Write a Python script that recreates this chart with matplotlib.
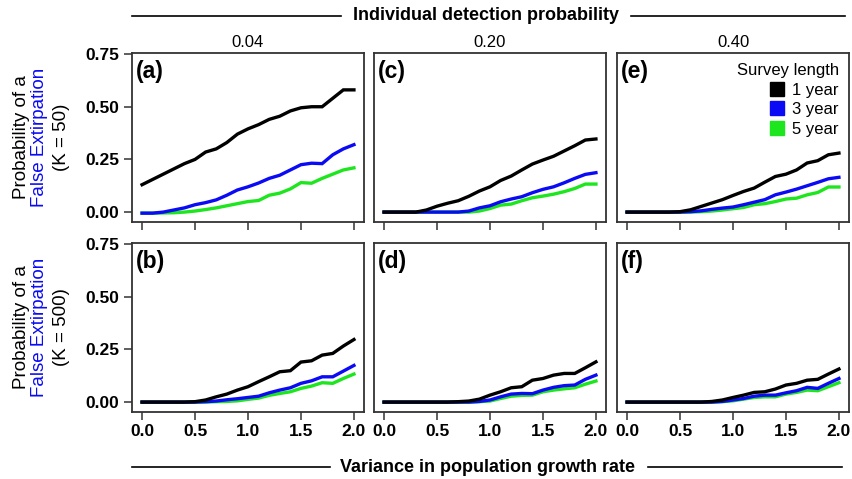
import matplotlib
matplotlib.use("Agg")
import matplotlib.pyplot as plt
from matplotlib.lines import Line2D

plt.rcParams['font.family'] = ['Liberation Sans', 'DejaVu Sans']

# variance in population growth rate
x = [0.0, 0.1, 0.2, 0.3, 0.4, 0.5, 0.6, 0.7, 0.8, 0.9, 1.0,
     1.1, 1.2, 1.3, 1.4, 1.5, 1.6, 1.7, 1.8, 1.9, 2.0]

# (a) p = 0.04, K = 50
a_1yr = [0.13, 0.155, 0.18, 0.205, 0.23, 0.25, 0.285, 0.30, 0.33, 0.37, 0.395,
         0.415, 0.44, 0.455, 0.48, 0.495, 0.50, 0.50, 0.54, 0.58, 0.58]
a_3yr = [-0.005, -0.005, 0.0, 0.01, 0.02, 0.035, 0.045, 0.058, 0.08, 0.105, 0.12,
         0.138, 0.16, 0.175, 0.20, 0.225, 0.232, 0.23, 0.272, 0.30, 0.32]
a_5yr = [-0.005, -0.005, -0.004, -0.003, 0.0, 0.005, 0.012, 0.02, 0.03, 0.04, 0.05,
         0.055, 0.08, 0.09, 0.11, 0.14, 0.137, 0.16, 0.18, 0.20, 0.21]
# (c) p = 0.20, K = 50
c_1yr = [0.0, 0.0, 0.0, 0.0, 0.01, 0.028, 0.042, 0.054, 0.075, 0.10, 0.12,
         0.15, 0.171, 0.20, 0.228, 0.247, 0.265, 0.29, 0.315, 0.342, 0.347]
c_3yr = [0.0, 0.0, 0.0, 0.0, 0.0, 0.0, 0.0, 0.0, 0.005, 0.02, 0.03,
         0.049, 0.062, 0.073, 0.092, 0.108, 0.12, 0.139, 0.16, 0.179, 0.187]
c_5yr = [0.0, 0.0, 0.0, 0.0, 0.0, 0.0, 0.0, 0.0, 0.0, 0.005, 0.017,
         0.033, 0.038, 0.054, 0.068, 0.076, 0.085, 0.097, 0.112, 0.133, 0.133]
# (e) p = 0.40, K = 50
e_1yr = [0.0, 0.0, 0.0, 0.0, 0.0, 0.002, 0.011, 0.027, 0.043, 0.059, 0.079,
         0.098, 0.114, 0.142, 0.169, 0.18, 0.20, 0.233, 0.244, 0.272, 0.28]
e_3yr = [0.0, 0.0, 0.0, 0.0, 0.0, 0.0, 0.002, 0.006, 0.013, 0.019, 0.024,
         0.035, 0.047, 0.059, 0.082, 0.095, 0.109, 0.125, 0.141, 0.158, 0.165]
e_5yr = [0.0, 0.0, 0.0, 0.0, 0.0, 0.0, 0.0, 0.002, 0.005, 0.01, 0.016,
         0.022, 0.035, 0.04, 0.05, 0.062, 0.066, 0.082, 0.093, 0.119, 0.119]
# (b) p = 0.04, K = 500
b_1yr = [0.0, 0.0, 0.0, 0.0, 0.0, 0.002, 0.01, 0.025, 0.038, 0.057, 0.073,
         0.097, 0.12, 0.144, 0.149, 0.19, 0.196, 0.223, 0.231, 0.266, 0.297]
b_3yr = [0.0, 0.0, 0.0, 0.0, 0.0, 0.0, 0.002, 0.005, 0.011, 0.016, 0.022,
         0.028, 0.044, 0.057, 0.068, 0.089, 0.101, 0.12, 0.12, 0.147, 0.174]
b_5yr = [0.0, 0.0, 0.0, 0.0, 0.0, 0.0, 0.0, 0.002, 0.003, 0.006, 0.013,
         0.019, 0.032, 0.041, 0.049, 0.065, 0.076, 0.092, 0.089, 0.112, 0.133]
# (d) p = 0.20, K = 500
d_1yr = [0.0, 0.0, 0.0, 0.0, 0.0, 0.0, 0.0, 0.002, 0.005, 0.014, 0.033,
         0.049, 0.068, 0.073, 0.104, 0.112, 0.128, 0.136, 0.136, 0.163, 0.191]
d_3yr = [0.0, 0.0, 0.0, 0.0, 0.0, 0.0, 0.0, 0.0, 0.0, 0.003, 0.01,
         0.025, 0.038, 0.041, 0.04, 0.057, 0.07, 0.078, 0.081, 0.108, 0.128]
d_5yr = [0.0, 0.0, 0.0, 0.0, 0.0, 0.0, 0.0, 0.0, 0.0, 0.002, 0.005,
         0.017, 0.028, 0.032, 0.033, 0.049, 0.057, 0.063, 0.068, 0.085, 0.10]
# (f) p = 0.40, K = 500
f_1yr = [0.0, 0.0, 0.0, 0.0, 0.0, 0.0, 0.0, 0.0, 0.003, 0.01, 0.022,
         0.033, 0.046, 0.049, 0.062, 0.081, 0.089, 0.104, 0.108, 0.133, 0.157]
f_3yr = [0.0, 0.0, 0.0, 0.0, 0.0, 0.0, 0.0, 0.0, 0.0, 0.003, 0.01,
         0.017, 0.028, 0.033, 0.033, 0.044, 0.054, 0.07, 0.065, 0.089, 0.112]
f_5yr = [0.0, 0.0, 0.0, 0.0, 0.0, 0.0, 0.0, 0.0, 0.0, 0.002, 0.006,
         0.014, 0.022, 0.025, 0.025, 0.038, 0.046, 0.057, 0.054, 0.073, 0.092]

detect_probs = ['0.04', '0.20', '0.40']
k_labels = ['(K = 50)', '(K = 500)']
panel_letters = [['(a)', '(c)', '(e)'], ['(b)', '(d)', '(f)']]
panel_data = [[(a_1yr, a_3yr, a_5yr), (c_1yr, c_3yr, c_5yr), (e_1yr, e_3yr, e_5yr)],
              [(b_1yr, b_3yr, b_5yr), (d_1yr, d_3yr, d_5yr), (f_1yr, f_3yr, f_5yr)]]
survey_labels = ['1 year', '3 year', '5 year']
line_colors = ['black', '#0a0af5', '#1ee61e']

x_ticks = [0.0, 0.5, 1.0, 1.5, 2.0]
x_ticklabels = ['0.0', '0.5', '1.0', '1.5', '2.0']
y_ticks = [0.0, 0.25, 0.5, 0.75]
y_ticklabels = ['0.00', '0.25', '0.50', '0.75']

W, H = 852, 479
fig = plt.figure(figsize=(W / 100, H / 100), dpi=100)

col_left = [132, 374, 617]
row_top = [53, 243]
ax_w, ax_h = 232, 169
frame_col = '#333333'

for r in range(2):
    for c in range(3):
        ax = fig.add_axes([col_left[c] / W, 1 - (row_top[r] + ax_h) / H, ax_w / W, ax_h / H])
        series = panel_data[r][c]
        # green under blue under black
        for i in [2, 1, 0]:
            ax.plot(x, series[i], color=line_colors[i], lw=2.4, solid_joinstyle='miter')
        ax.set_xlim(-0.095, 2.095)
        ax.set_ylim(-0.047, 0.755)
        for sp in ax.spines.values():
            sp.set_color(frame_col)
            sp.set_linewidth(1.3)
        ax.set_xticks(x_ticks)
        ax.set_yticks(y_ticks)
        ax.tick_params(direction='out', length=6, width=1.1, color=frame_col, labelsize=12.5, pad=3)
        if r == 1:
            ax.set_xticklabels(x_ticklabels, fontweight='bold')
        else:
            ax.set_xticklabels([])
        if c == 0:
            ax.set_yticklabels(y_ticklabels, fontweight='bold')
        else:
            ax.tick_params(axis='y', left=False, labelleft=False)
        ax.text(0.018, 0.96, panel_letters[r][c], transform=ax.transAxes,
                ha='left', va='top', fontsize=16.5, fontweight='bold')
        if r == 0:
            ax.set_title(detect_probs[c], fontsize=12, pad=4)
        if r == 0 and c == 2:
            handles = [Line2D([], [], marker='s', ls='none', markersize=10, color=col)
                       for col in line_colors]
            ax.legend(handles, survey_labels, title='Survey length', loc='upper right',
                      frameon=False, alignment='right', fontsize=12, title_fontsize=12,
                      handlelength=0.8, handletextpad=0.5, labelspacing=0.28,
                      borderpad=0.1, borderaxespad=0.5)

    # y label in three lines, middle one blue
    yc = 1 - (row_top[r] + ax_h / 2) / H
    fig.text(22 / W, yc, 'Probability of a', rotation=90, ha='center', va='center', fontsize=13.5)
    fig.text(40 / W, yc, 'False Extirpation', rotation=90, ha='center', va='center',
             fontsize=13.5, color='#0a0af5')
    fig.text(62 / W, yc, k_labels[r], rotation=90, ha='center', va='center', fontsize=13.5)

# header and footer with rules on both sides
y_head = 1 - 16 / H
fig.text(486 / W, y_head, 'Individual detection probability', ha='center', va='center',
         fontsize=13, fontweight='bold')
fig.add_artist(Line2D([132 / W, 341 / W], [y_head, y_head], color='black', lw=1.2))
fig.add_artist(Line2D([631 / W, 845 / W], [y_head, y_head], color='black', lw=1.2))

y_foot = 1 - 467 / H
fig.text(487 / W, y_foot, 'Variance in population growth rate', ha='center', va='center',
         fontsize=13, fontweight='bold')
fig.add_artist(Line2D([132 / W, 330 / W], [y_foot, y_foot], color='black', lw=1.2))
fig.add_artist(Line2D([648 / W, 842 / W], [y_foot, y_foot], color='black', lw=1.2))

fig.savefig('out.png', dpi=100)
